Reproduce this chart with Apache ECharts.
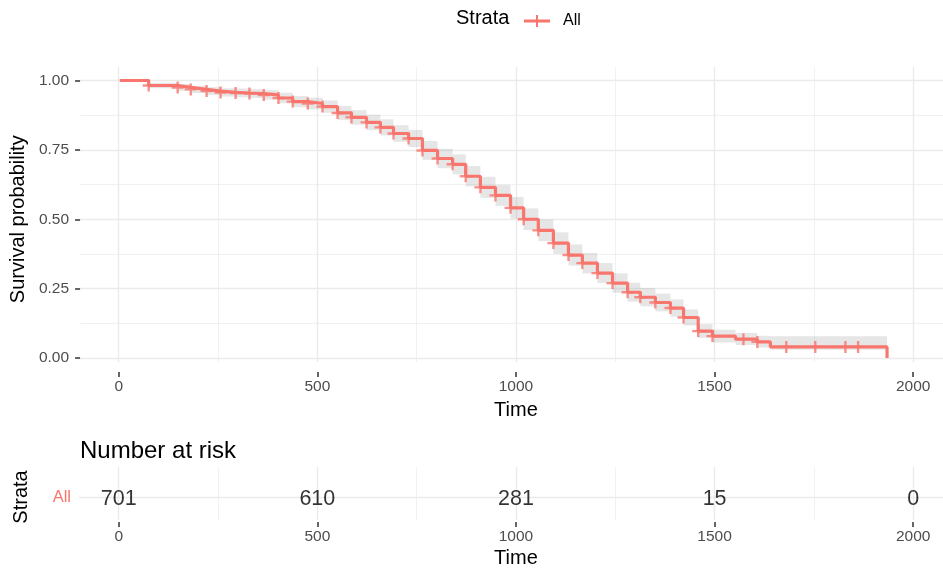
<!DOCTYPE html>
<html>
<head>
<meta charset="utf-8">
<title>Survival curve</title>
<script src="https://cdn.jsdelivr.net/npm/echarts@6.0.0/dist/echarts.min.js"></script>
<style>
  html, body { margin: 0; padding: 0; background: #fff; }
  #chart { width: 943px; height: 569px; }
</style>
</head>
<body>
<div id="chart"></div>
<script>
// Kaplan-Meier steps: time where the curve drops, survival after the drop
const times = [0, 73, 146, 179, 219, 254, 292, 327, 363, 400, 436, 474, 511, 549, 584,
  622, 657, 690, 728, 763, 801, 839, 872, 909, 947, 985, 1018, 1055, 1093, 1131,
  1166, 1204, 1242, 1280, 1312, 1350, 1388, 1421, 1458, 1494, 1552, 1607, 1640, 1934]
const surv = [1, 0.982, 0.975, 0.968, 0.962, 0.957, 0.955, 0.953, 0.948, 0.937, 0.924, 0.917, 0.906, 0.883, 0.867,
  0.849, 0.831, 0.809, 0.791, 0.748, 0.719, 0.698, 0.655, 0.615, 0.586, 0.541, 0.500, 0.460, 0.414, 0.371,
  0.342, 0.306, 0.270, 0.237, 0.219, 0.200, 0.180, 0.146, 0.097, 0.079, 0.068, 0.058, 0.040, 0]
// confidence band for each step (last step has no band)
const upper = [1, 0.992, 0.987, 0.981, 0.976, 0.972, 0.971, 0.969, 0.965, 0.956, 0.944, 0.938, 0.928, 0.908, 0.893,
  0.877, 0.860, 0.839, 0.822, 0.782, 0.754, 0.734, 0.692, 0.653, 0.624, 0.580, 0.539, 0.499, 0.453, 0.409,
  0.379, 0.342, 0.305, 0.271, 0.252, 0.232, 0.211, 0.175, 0.122, 0.102, 0.090, 0.080, 0.078]
const lower = [1, 0.972, 0.963, 0.955, 0.948, 0.942, 0.939, 0.937, 0.931, 0.918, 0.904, 0.896, 0.884, 0.858, 0.841,
  0.821, 0.802, 0.779, 0.760, 0.714, 0.684, 0.662, 0.618, 0.577, 0.548, 0.502, 0.461, 0.421, 0.375, 0.333,
  0.305, 0.270, 0.235, 0.203, 0.186, 0.168, 0.149, 0.117, 0.072, 0.056, 0.047, 0.038, 0.030]
// censored observations
const censorTimes = [73, 146, 179, 219, 254, 292, 327, 363, 400, 436, 474, 511, 549, 584, 622,
  657, 690, 728, 763, 801, 839, 872, 909, 947, 985, 1018, 1055, 1093, 1131, 1166,
  1204, 1242, 1280, 1312, 1350, 1388, 1421, 1458, 1494, 1572, 1607, 1680, 1753, 1829, 1861]
// number at risk table
const riskTimes = [0, 500, 1000, 1500, 2000]
const riskCounts = [701, 610, 281, 15, 0]

const red = '#F8766D'
const font = 'Liberation Sans, Arial, sans-serif'
const gridMajor = { show: true, lineStyle: { color: '#ebebeb', width: 1.4 } }
const gridMinor = { show: true, lineStyle: { color: '#ebebeb', width: 0.7 } }

function survAt(t) {
    let s = surv[0]
    for (let i = 0; i < times.length; i++) {
        if (times[i] <= t) s = surv[i]
    }
    return s
}

let bandData = []
for (let k = 0; k < upper.length; k++) {
    bandData.push([times[k], times[k + 1], lower[k], upper[k]])
}
let lineData = times.map((t, i) => [t, surv[i]])
let censorData = censorTimes.map(t => [t, survAt(t)])
let riskData = riskTimes.map((t, i) => [t, 1, riskCounts[i]])

// x range of the panels (-100 .. 2075) => 0 at 118.7px, 2000 at 913.2px
const k = 864 / 2175
const x0 = 79 + 100 * k
const w2000 = 2000 * k

let option = {
    animation: false,
    textStyle: { fontFamily: font },
    grid: [
        { left: x0, width: w2000, top: 67, height: 295 },      // vertical lines main
        { left: 79, width: 864, top: 80.5, height: 277.5 },    // main data
        { left: x0, width: w2000, top: 467, height: 53 },      // vertical lines risk table
        { left: 79, width: 864, top: 477, height: 40 }         // risk table data
    ],
    xAxis: [
        {
            gridIndex: 0, type: 'value', min: 0, max: 2000, interval: 500, offset: 10,
            axisLine: { show: false, onZero: false },
            axisTick: { show: true, length: 5, lineStyle: { color: '#333', width: 1.5 } },
            axisLabel: { margin: 7, fontSize: 15.5, color: '#4d4d4d', fontFamily: font, formatter: v => String(v) },
            splitLine: gridMajor,
            minorTick: { show: false, splitNumber: 2 },
            minorSplitLine: gridMinor,
            name: 'Time', nameLocation: 'middle', nameGap: 28,
            nameTextStyle: { fontSize: 20, color: '#000', fontFamily: font }
        },
        { gridIndex: 1, type: 'value', min: -100, max: 2075, show: false },
        {
            gridIndex: 2, type: 'value', min: 0, max: 2000, interval: 500, offset: 2,
            axisLine: { show: false, onZero: false },
            axisTick: { show: true, length: 5, lineStyle: { color: '#333', width: 1.5 } },
            axisLabel: { margin: 7, fontSize: 15.5, color: '#4d4d4d', fontFamily: font, formatter: v => String(v) },
            splitLine: gridMajor,
            minorTick: { show: false, splitNumber: 2 },
            minorSplitLine: gridMinor,
            name: 'Time', nameLocation: 'middle', nameGap: 26,
            nameTextStyle: { fontSize: 20, color: '#000', fontFamily: font }
        },
        { gridIndex: 3, type: 'value', min: -100, max: 2075, show: false }
    ],
    yAxis: [
        { gridIndex: 0, type: 'value', min: 0, max: 1, show: false },
        {
            gridIndex: 1, type: 'value', min: 0, max: 1, interval: 0.25,
            axisLine: { show: false, onZero: false },
            axisTick: { show: true, length: 5, lineStyle: { color: '#333', width: 1.5 } },
            axisLabel: { margin: 11, fontSize: 15.5, color: '#4d4d4d', fontFamily: font, formatter: v => v.toFixed(2) },
            splitLine: gridMajor,
            minorTick: { show: false, splitNumber: 2 },
            minorSplitLine: gridMinor,
            name: 'Survival probability', nameLocation: 'middle', nameGap: 46,
            nameTextStyle: { fontSize: 20, color: '#000', fontFamily: font }
        },
        { gridIndex: 2, type: 'value', min: 0, max: 1, show: false },
        {
            gridIndex: 3, type: 'value', min: 0, max: 2, interval: 1,
            axisLine: { show: false, onZero: false },
            axisTick: { show: false },
            axisLabel: { margin: 8, fontSize: 16.5, color: red, fontFamily: font, formatter: v => (v === 1 ? 'All' : '') },
            splitLine: { show: true, showMinLine: false, showMaxLine: false, lineStyle: { color: '#ebebeb', width: 1.4 } },
            name: 'Strata', nameLocation: 'middle', nameGap: 48,
            nameTextStyle: { fontSize: 20, color: '#000', fontFamily: font }
        }
    ],
    legend: {
        left: 524, top: 13, padding: 0,
        itemWidth: 26, itemHeight: 12,
        data: [{ name: 'All', icon: 'path://M0,4.5H26V7.5H0Z M12,0H14V12H12Z' }],
        textStyle: { fontSize: 16, color: '#000', fontFamily: font, padding: [0, 0, 0, 8] }
    },
    graphic: [
        { type: 'text', left: 456, top: 8, style: { text: 'Strata', fontSize: 20, fill: '#000', fontFamily: font } },
        { type: 'text', left: 80, top: 439, style: { text: 'Number at risk', fontSize: 24, fill: '#000', fontFamily: font } }
    ],
    series: [
        {
            name: 'band', type: 'custom', xAxisIndex: 1, yAxisIndex: 1,
            encode: { x: [0, 1], y: [2, 3] },
            data: bandData,
            silent: true,
            renderItem: (params, api) => {
                let p1 = api.coord([api.value(0), api.value(3)])
                let p2 = api.coord([api.value(1), api.value(2)])
                return {
                    type: 'rect',
                    shape: { x: p1[0], y: p1[1], width: p2[0] - p1[0], height: p2[1] - p1[1] },
                    style: { fill: 'rgba(128,128,128,0.2)' }
                }
            },
            z: 1
        },
        {
            name: 'All', type: 'line', xAxisIndex: 1, yAxisIndex: 1,
            step: 'end', symbol: 'none',
            data: lineData,
            color: red,
            lineStyle: { color: red, width: 3.2 },
            z: 3
        },
        {
            name: 'censor', type: 'scatter', xAxisIndex: 1, yAxisIndex: 1,
            symbol: 'path://M-1.2,-6H1.2V6H-1.2Z M-6,-1.2H6V1.2H-6Z',
            symbolSize: 12,
            itemStyle: { color: red },
            data: censorData,
            z: 4
        },
        {
            name: 'risk', type: 'scatter', xAxisIndex: 3, yAxisIndex: 3,
            symbolSize: 0,
            data: riskData,
            label: {
                show: true, position: 'inside', offset: [0, 2],
                fontSize: 21.5, color: '#000', fontFamily: font,
                formatter: p => String(p.value[2])
            }
        }
    ]
}

let chart = echarts.init(document.getElementById('chart'))
chart.setOption(option)
</script>
</body>
</html>
